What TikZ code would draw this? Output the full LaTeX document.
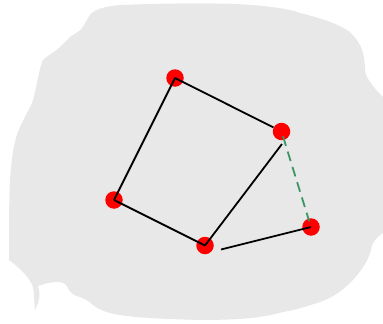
\documentclass[tikz,border=0pt]{standalone}
\definecolor{blobgray}{RGB}{232,232,232}
\definecolor{dashgreen}{RGB}{58,150,100}
\tikzset{
  dot/.style={circle,fill=red,draw=none,minimum size=17.5pt,inner sep=0pt},
  edge/.style={line width=1.8pt,black},
  dedge/.style={line width=1.8pt,dashgreen,dash pattern=on 10pt off 6pt}
}
\begin{document}
\begin{tikzpicture}[x=1pt,y=-1pt]
\useasboundingbox (0,0) rectangle (383,324);
\fill[blobgray] (90,15) .. controls (95,8) and (110,6) .. (120,5)
  .. controls (170,3) and (210,3) .. (233,4)
  .. controls (265,5) and (290,9) .. (300,13)
  .. controls (325,19) and (340,25) .. (350,32)
  .. controls (358,40) and (362,48) .. (363,53)
  .. controls (366,65) and (364,72) .. (367,77)
  .. controls (372,86) and (378,92) .. (383,97)
  -- (383,233)
  .. controls (376,238) and (372,242) .. (371,250)
  .. controls (368,262) and (360,272) .. (353,280)
  .. controls (345,288) and (335,297) .. (320,302)
  .. controls (305,307) and (295,310) .. (283,312)
  .. controls (265,317) and (245,320) .. (200,320)
  .. controls (160,319) and (130,317) .. (120,315)
  .. controls (105,313) and (97,308) .. (93,305)
  .. controls (88,300) and (84,299) .. (80,297)
  .. controls (72,295) and (70,292) .. (68,288)
  .. controls (66,283) and (62,282) .. (57,282)
  .. controls (50,282) and (44,284) .. (38,286)
  .. controls (40,292) and (40,297) .. (38,303)
  -- (35,310)
  .. controls (34,300) and (34,292) .. (33,287)
  .. controls (30,278) and (20,268) .. (9,260)
  .. controls (9,230) and (9,200) .. (10,180)
  .. controls (12,150) and (16,135) .. (20,127)
  .. controls (28,110) and (32,105) .. (33,100)
  .. controls (37,85) and (40,65) .. (43,60)
  .. controls (48,55) and (55,52) .. (60,47)
  .. controls (64,43) and (67,40) .. (70,37)
  .. controls (76,33) and (80,31) .. (82,28)
  .. controls (85,24) and (87,19) .. (90,15) -- cycle;
\node[dot] (A) at (175,78) {};
\node[dot] (B) at (281.5,131.5) {};
\node[dot] (C) at (114,200) {};
\node[dot] (D) at (205,245.5) {};
\node[dot] (E) at (311,227) {};
\coordinate (Bt) at (282,144);
\coordinate (Dt) at (221,249.5);
\draw[edge,shorten >=9pt] (A.center) -- (B.center);
\draw[edge] (A.center) -- (C.center);
\draw[edge] (C.center) -- (D.center);
\draw[edge] (D.center) -- (Bt);
\draw[edge] (E.center) -- (Dt);
\draw[dedge,shorten <=5pt,shorten >=6pt] (B.center) -- (E.center);
\end{tikzpicture}
\end{document}
